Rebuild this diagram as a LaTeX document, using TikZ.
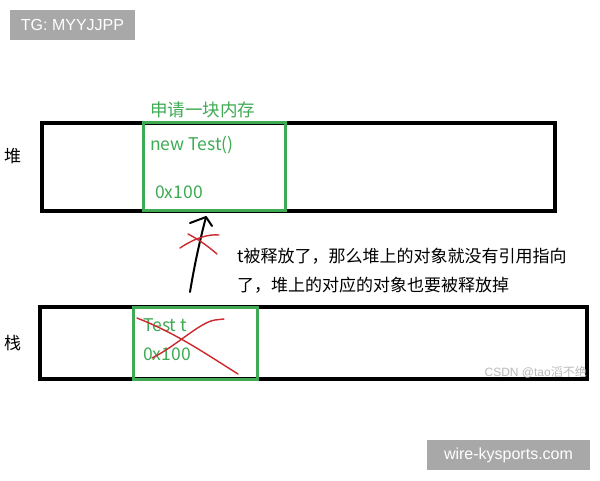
\documentclass[tikz,border=0pt]{standalone}
\usepackage{fontspec}
\setmainfont{Noto Sans CJK SC}
\newfontfamily\tagfont{Liberation Sans}
\usetikzlibrary{positioning}
\definecolor{boxgreen}{RGB}{62,170,84}
\definecolor{penred}{RGB}{205,40,45}
\definecolor{taggray}{RGB}{168,168,168}
\definecolor{markgray}{RGB}{185,185,185}
\tikzset{
  mem/.style={draw=black, line width=3.5pt},
  obj/.style={draw=boxgreen, line width=3pt},
  lbl/.style={anchor=west, inner sep=0pt, font=\fontsize{17}{19}\selectfont},
  greenlbl/.style={lbl, text=boxgreen, font=\fontsize{17.5}{19}\selectfont},
  tag/.style={fill=taggray, text=white, inner sep=0pt, font=\tagfont\fontsize{16}{18}\selectfont},
  pen/.style={penred, line width=1.4pt, line cap=round, line join=round},
  ink/.style={black, line width=2pt, line cap=round, line join=round},
}
\begin{document}
\begin{tikzpicture}[x=1pt, y=-1pt]
\useasboundingbox[fill=white] (0,0) rectangle (600,480);

% heap
\draw[mem] (42,123) rectangle (555,211);
\draw[obj] (143,122) rectangle (285,210);
\node[lbl] (heaplbl) at (4,156) {堆};
\node[greenlbl] (alloc) at (150,110) {申请一块内存};
\node[greenlbl] (newobj) at (150,145) {new Test()};
\node[greenlbl] (heapaddr) at (155,192) {0x100};

% stack
\draw[mem] (40,307) rectangle (587,379);
\draw[obj] (133,307) rectangle (257,379);
\node[lbl] (stacklbl) at (4,343) {栈};
\node[greenlbl] (ref) at (143,325) {Test t};
\node[greenlbl] (stackaddr) at (143,354) {0x100};

% reference arrow
\coordinate (from) at (190,292);
\coordinate (tip) at (206,217);
\draw[ink] (from) .. controls (195,262) and (200,240) .. (tip);
\draw[ink] (190,223) -- (tip) -- (212,226);

% crosses
\draw[pen] (180,248) .. controls (195,238) and (208,234) .. (219,235);
\draw[pen] (188,234) .. controls (200,240) and (210,248) .. (217,254);
\draw[pen] (137,318) .. controls (175,333) and (200,350) .. (238,374);
\draw[pen] (152,358) .. controls (175,347) and (200,322) .. (215,320) -- (224,319);

% note
\node[lbl] (note1) at (237,256) {t被释放了，那么堆上的对象就没有引用指向};
\node[lbl] (note2) at (237,285) {了，堆上的对应的对象也要被释放掉};

% watermarks
\node[tag, minimum width=125pt, minimum height=30pt] (tg) at (72.5,25) {TG: MYYJJPP};
\node[tag, minimum width=163pt, minimum height=30pt] (site) at (508.5,455) {wire-kysports.com};
\node[anchor=east, inner sep=0pt, text=markgray, font=\tagfont\fontsize{12}{13}\selectfont] (csdn) at (587,372) {CSDN @tao{\fontspec{Noto Sans CJK SC}滔不绝}};
\end{tikzpicture}
\end{document}
